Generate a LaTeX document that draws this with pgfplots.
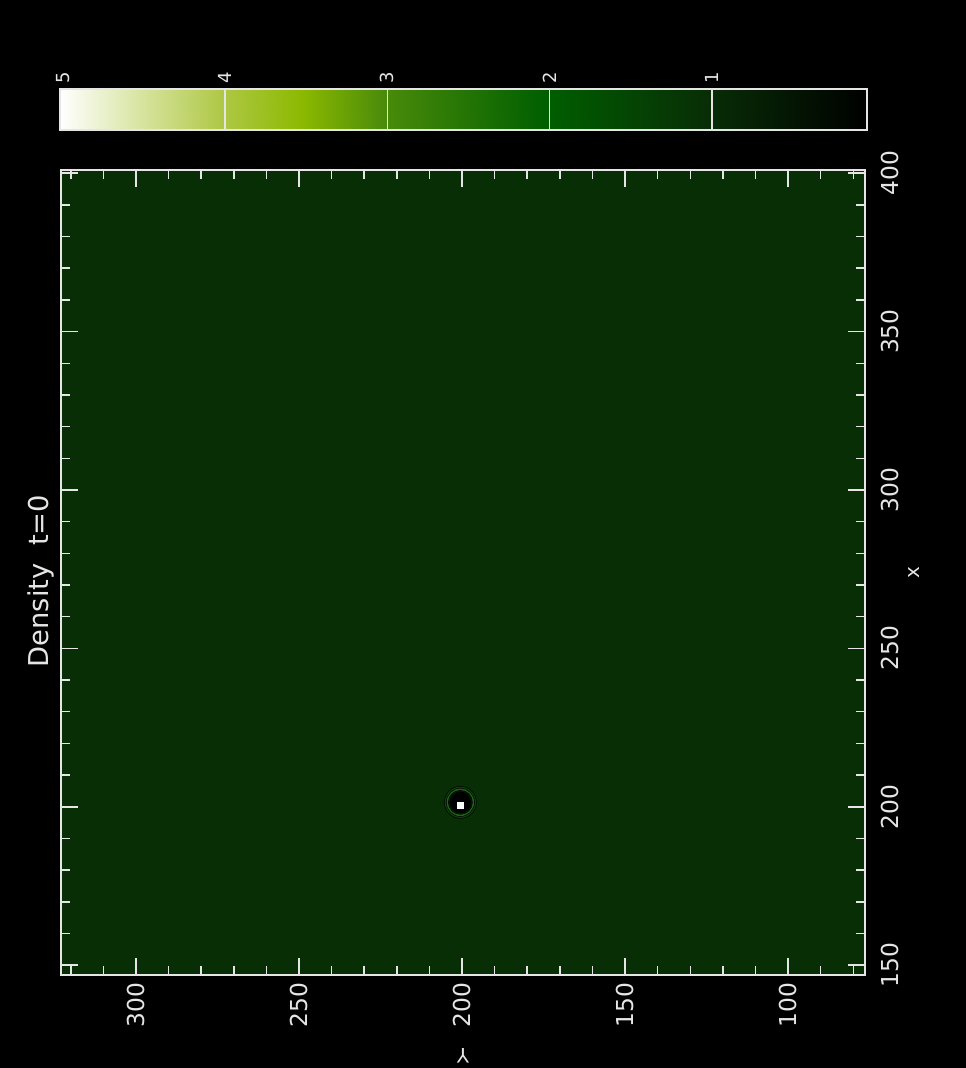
\documentclass[border=0pt]{standalone}
\usepackage{fontspec}
\setmainfont{DejaVu Sans}
\usepackage{pgfplots}
\pgfplotsset{compat=1.18}
\definecolor{fg}{gray}{0.9}
\definecolor{bgfield}{RGB}{8,46,6}
\definecolor{glowA}{RGB}{15,66,11}
\definecolor{glowB}{RGB}{28,102,20}
\definecolor{glowC}{RGB}{6,30,4}
\pgfplotsset{colormap={dens}{rgb255(0pt)=(0,0,0); rgb255(10pt)=(8,46,6); rgb255(20pt)=(0,95,0); rgb255(30pt)=(75,140,10); rgb255(35pt)=(140,185,0); rgb255(40pt)=(175,200,70); rgb255(45pt)=(215,228,160); rgb255(50pt)=(255,255,255)}}
\begin{document}
\begin{tikzpicture}
\path[use as bounding box, fill=black] (0,0) rectangle (724.5pt,-801pt);
% main field
\begin{axis}[
  at={(45.75pt,-731.25pt)}, anchor=south west,
  scale only axis, width=603pt, height=603.75pt,
  x dir=reverse,
  xmin=76.4, xmax=323, ymin=146.9, ymax=401,
  xtick={100,150,200,250,300},
  minor xtick={80,90,...,320},
  ytick={150,200,...,400},
  minor ytick={150,160,...,400},
  tick pos=both,
  yticklabel pos=right,
  tick align=inside,
  major tick length=12.75pt, minor tick length=6.4pt,
  tick style={fg, line width=1.1pt},
  axis line style={fg, line width=1.1pt},
  /pgf/number format/assume math mode=true,
  ticklabel style={font=\fontsize{17.5}{17.5}\selectfont, text=fg},
  xticklabel style={rotate=90, anchor=east, inner sep=0pt, outer xsep=6pt, outer ysep=0pt},
  yticklabel style={rotate=90, anchor=north, inner sep=0pt, outer ysep=12pt, outer xsep=0pt},
  title={Density\ \ t=0},
  every axis title/.style={at={(axis description cs:-0.0255,0.4894)}, rotate=90, anchor=center, font=\fontsize{20.5}{20.5}\selectfont, text=fg},
  xlabel={Y},
  every axis x label/.style={at={(axis description cs:0.5,-0.1006)}, rotate=180, anchor=center, font=\fontsize{15}{15}\selectfont, text=fg},
  ylabel={x},
  every axis y label/.style={at={(axis description cs:1.0616,0.5)}, rotate=90, anchor=center, font=\fontsize{15}{15}\selectfont, text=fg},
  axis on top,
  clip=true,
]
\addplot[draw=none, fill=bgfield] coordinates {(76.4,146.9) (323,146.9) (323,401) (76.4,401)} -- cycle;
\addplot[only marks, mark=*, mark size=12pt, mark options={draw=none, fill=glowA}] coordinates {(200.5,201.4)};
\addplot[only marks, mark=*, mark size=10.6pt, mark options={draw=none, fill=glowB}] coordinates {(200.5,201.4)};
\addplot[only marks, mark=*, mark size=9pt, mark options={draw=none, fill=glowC}] coordinates {(200.5,201.4)};
\addplot[only marks, mark=*, mark size=7.9pt, mark options={draw=none, fill=black}] coordinates {(200.5,201.4)};
\addplot[only marks, mark=square*, mark size=3pt, mark options={draw=none, fill=white}] coordinates {(200.6,200.4)};
\end{axis}
% colour bar
\begin{axis}[
  at={(45pt,-97.5pt)}, anchor=south west,
  scale only axis, width=605.25pt, height=30.75pt,
  x dir=reverse,
  xmin=0.045, xmax=5.017, ymin=0, ymax=1,
  ytick=\empty,
  xtick={1,2,3,4},
  extra x ticks={5},
  extra tick style={grid=none},
  xmajorgrids,
  grid style={fg, line width=1pt},
  major tick length=0pt,
  xtick pos=upper,
  xticklabel pos=upper,
  axis line style={fg, line width=1.1pt},
  /pgf/number format/assume math mode=true,
  xticklabel style={rotate=90, anchor=west, inner sep=0pt, outer xsep=4.5pt, outer ysep=0pt, font=\fontsize{13.5}{13.5}\selectfont, text=fg},
  colormap name=dens,
  axis on top,
]
\addplot[surf, shader=interp, point meta=x] coordinates {
(0.045,0) (1,0) (2,0) (3,0) (3.5,0) (4,0) (4.5,0) (5.017,0)

(0.045,1) (1,1) (2,1) (3,1) (3.5,1) (4,1) (4.5,1) (5.017,1)
};
\end{axis}
\end{tikzpicture}
\end{document}
